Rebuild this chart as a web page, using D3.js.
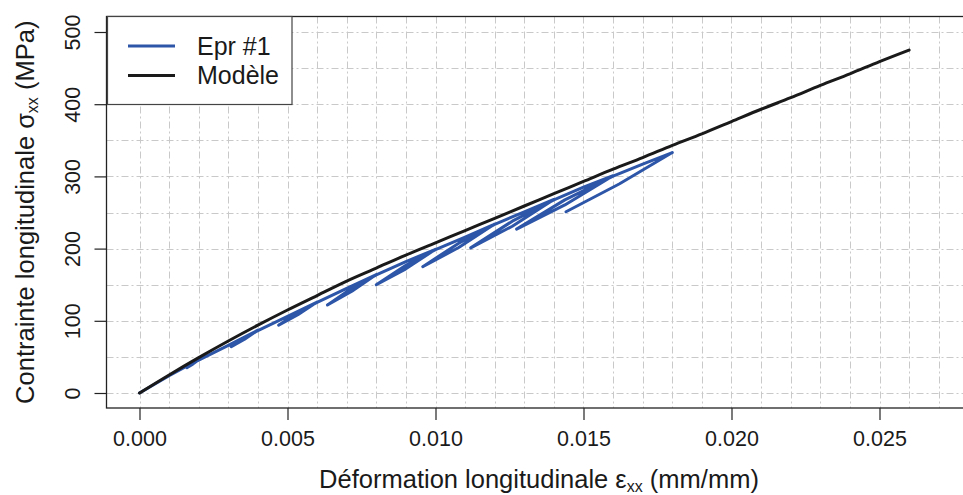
<!DOCTYPE html>
<html>
<head>
<meta charset="utf-8">
<script src="https://cdn.jsdelivr.net/npm/d3@7"></script>
<style>
  body { margin: 0; background: #fff; }
  svg { display: block; font-family: "Liberation Sans", Arial, sans-serif; }
</style>
</head>
<body>
<div id="canvas"></div>
<script>
// Modèle (courbe noire)
const modelStrain = [0, 0.001, 0.002, 0.003, 0.004, 0.005, 0.006, 0.007, 0.008, 0.009,
  0.010, 0.011, 0.012, 0.013, 0.014, 0.015, 0.016, 0.017, 0.018, 0.019,
  0.020, 0.021, 0.022, 0.023, 0.024, 0.025, 0.026];
const modelStress = [0, 25, 49, 72, 94, 115, 135, 155, 173, 191,
  208, 225, 242, 259, 276, 293, 310, 326, 343, 359,
  376, 393, 409, 426, 442, 459, 475];

// Epr #1 : charge / décharge / recharge
const testStrain = [
  0, 0.001, 0.002,
  0.0018, 0.0016, 0.0018, 0.002, 0.003, 0.004,
  0.00355, 0.0031, 0.00355, 0.004, 0.005, 0.006,
  0.00535, 0.0047, 0.00535, 0.006, 0.007, 0.008,
  0.007175, 0.00635, 0.007175, 0.008, 0.009, 0.010,
  0.009, 0.008, 0.009, 0.010, 0.011, 0.012,
  0.010785, 0.00957, 0.010785, 0.012, 0.013, 0.014,
  0.012595, 0.01119, 0.012595, 0.014, 0.015, 0.016,
  0.01437, 0.01274, 0.01437, 0.016, 0.017, 0.018,
  0.016205, 0.01441
];
const testStress = [
  0, 24, 46,
  40, 35, 41.5, 45.5, 66, 87,
  74.5, 64, 77, 86.5, 106, 126,
  108.5, 94, 111.5, 125.5, 145, 164,
  141, 122, 145, 163.5, 182, 199,
  172, 150, 177, 198.5, 216, 234,
  201.5, 175, 207.5, 233.5, 251, 268,
  231, 201, 238, 267.5, 285, 301,
  260.5, 227, 267.5, 300.5, 317, 333,
  289.5, 251
];

const xTicks = [0, 0.005, 0.010, 0.015, 0.020, 0.025];
const yTicks = [0, 100, 200, 300, 400, 500];
const seriesNames = ["Epr #1", "Modèle"];
const seriesColors = ["#2d55a8", "#1a1a1a"];

const width = 963, height = 495;
const plot = { left: 106.5, top: 16.5, right: 975, bottom: 408 };

const svg = d3.select("#canvas")
  .append("svg")
  .attr("width", width)
  .attr("height", height);

const x = d3.scaleLinear().domain([0, 0.025]).range([139.5, 879.5]);
const y = d3.scaleLinear().domain([0, 500]).range([393, 32]);

// grille pointillée
const grid = svg.append("g")
  .attr("stroke", "#c9c9c9")
  .attr("stroke-width", 1)
  .attr("stroke-dasharray", "7,3,2,3");
grid.selectAll(".gx")
  .data(d3.range(0, 29).map(i => i / 1000))
  .join("line")
  .attr("x1", d => Math.round(x(d)) + 0.5)
  .attr("x2", d => Math.round(x(d)) + 0.5)
  .attr("y1", plot.top)
  .attr("y2", plot.bottom);
grid.selectAll(".gy")
  .data(d3.range(0, 11).map(i => i * 50))
  .join("line")
  .attr("x1", plot.left)
  .attr("x2", plot.right)
  .attr("y1", d => Math.round(y(d)) + 0.5)
  .attr("y2", d => Math.round(y(d)) + 0.5);

const line = d3.line()
  .x(d => x(d[0]))
  .y(d => y(d[1]));

const testData = testStrain.map((e, i) => [e, testStress[i]]);
const modelData = modelStrain.map((e, i) => [e, modelStress[i]]);

svg.append("path")
  .datum(testData)
  .attr("d", line)
  .attr("fill", "none")
  .attr("stroke", seriesColors[0])
  .attr("stroke-width", 3)
  .attr("stroke-linejoin", "round")
  .attr("stroke-linecap", "round");

svg.append("path")
  .datum(modelData)
  .attr("d", line.curve(d3.curveMonotoneX))
  .attr("fill", "none")
  .attr("stroke", seriesColors[1])
  .attr("stroke-width", 3)
  .attr("stroke-linejoin", "round")
  .attr("stroke-linecap", "round");

// cadre
svg.append("rect")
  .attr("x", plot.left)
  .attr("y", plot.top)
  .attr("width", plot.right - plot.left)
  .attr("height", plot.bottom - plot.top)
  .attr("fill", "none")
  .attr("stroke", "#222")
  .attr("stroke-width", 1.3);

// axes
const xAxis = svg.append("g")
  .attr("transform", `translate(0,${plot.bottom})`)
  .call(d3.axisBottom(x).tickValues(xTicks).tickFormat(d3.format(".3f")).tickSize(12).tickPadding(11));
const yAxis = svg.append("g")
  .attr("transform", `translate(${plot.left},0)`)
  .call(d3.axisLeft(y).tickValues(yTicks).tickSize(12).tickPadding(12));

[xAxis, yAxis].forEach(a => {
  a.select(".domain").remove();
  a.selectAll(".tick line").attr("stroke", "#222").attr("stroke-width", 1.2);
  a.selectAll(".tick text")
    .attr("fill", "#1a1a1a")
    .style("font-size", "21.5px")
    .style("font-family", "'Liberation Sans', Arial, sans-serif");
});
yAxis.selectAll(".tick text")
  .attr("x", 0)
  .attr("dy", 0)
  .attr("text-anchor", "middle")
  .attr("transform", "translate(-27,0) rotate(-90)");

// titres des axes
const xTitle = svg.append("text")
  .attr("x", 539)
  .attr("y", 488)
  .attr("text-anchor", "middle")
  .attr("fill", "#1a1a1a")
  .style("font-size", "25.5px");
xTitle.append("tspan").text("Déformation longitudinale ε");
xTitle.append("tspan").attr("dy", 4).style("font-size", "16px").text("xx");
xTitle.append("tspan").attr("dy", -4).text(" (mm/mm)");

const yTitle = svg.append("text")
  .attr("transform", `translate(34,${(plot.top + plot.bottom) / 2}) rotate(-90)`)
  .attr("text-anchor", "middle")
  .attr("fill", "#1a1a1a")
  .style("font-size", "25.5px");
yTitle.append("tspan").text("Contrainte longitudinale σ");
yTitle.append("tspan").attr("dy", 4).style("font-size", "16px").text("xx");
yTitle.append("tspan").attr("dy", -4).text(" (MPa)");

// légende
const legend = svg.append("g");
legend.append("rect")
  .attr("x", 107.5)
  .attr("y", 16.5)
  .attr("width", 184.5)
  .attr("height", 88)
  .attr("fill", "#fff")
  .attr("stroke", "#444")
  .attr("stroke-width", 1.2);
seriesNames.forEach((name, i) => {
  const ly = 46 + i * 29.5;
  legend.append("line")
    .attr("x1", 128).attr("x2", 175)
    .attr("y1", ly).attr("y2", ly)
    .attr("stroke", seriesColors[i])
    .attr("stroke-width", 3);
  legend.append("text")
    .attr("x", 197)
    .attr("y", ly + 8.5)
    .attr("fill", "#1a1a1a")
    .style("font-size", "25px")
    .text(name);
});
</script>
</body>
</html>
